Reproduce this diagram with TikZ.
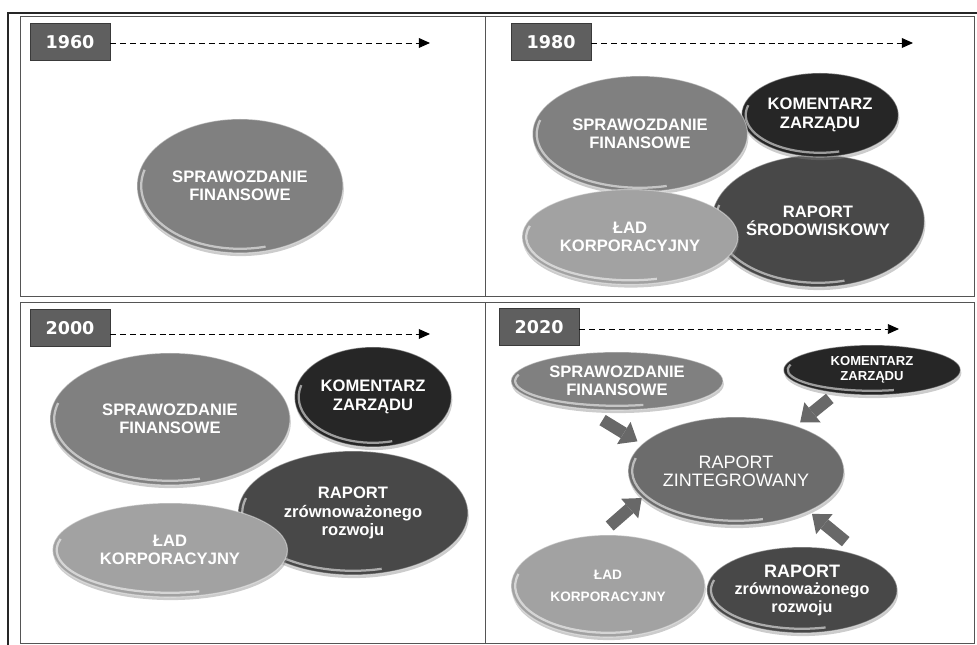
\documentclass[tikz,border=0pt]{standalone}
\usepackage{fontspec}
\setmainfont{Liberation Sans}
\newfontfamily\yearfont{DejaVu Sans}
\usetikzlibrary{shapes.geometric,arrows.meta,shadows,calc}

\definecolor{boxgray}{HTML}{5F5F5F}
\definecolor{boxedge}{HTML}{3A3A3A}
\definecolor{framegray}{HTML}{555555}
\definecolor{sfgray}{HTML}{808080}
\definecolor{kzgray}{HTML}{262626}
\definecolor{rrgray}{HTML}{484848}
\definecolor{ladgray}{HTML}{A2A2A2}
\definecolor{rzgray}{HTML}{6C6C6C}
\definecolor{arrowgray}{HTML}{686868}
\def\s{0.025}
\def\pnt#1#2{({(#1)*\s},{-(#2)*\s})}

\tikzset{
  blob/.style 2 args={ellipse, inner sep=0pt,
    minimum width={(#1)*\s*1cm}, minimum height={(#2)*\s*1cm},
    draw=white, draw opacity=.4, line width=.8pt,
    text=white, align=center, font=\bfseries\fontsize{11.8}{13}\selectfont,
    drop shadow={shadow xshift=.6pt, shadow yshift=-2.2pt, opacity=.4},
    path picture={
      \draw[white, opacity=.55, line width=1.6pt]
        let \p1=(path picture bounding box.north east),
            \p2=(path picture bounding box.center) in
        (\p2) ++(165:{\x1-\x2-3pt} and {\y1-\y2-3pt})
        arc[start angle=165, end angle=285,
            x radius={\x1-\x2-3pt}, y radius={\y1-\y2-3pt}];
    }},
  yearbox/.style={minimum width=2cm, minimum height=.925cm, inner sep=0pt,
    fill=boxgray, draw=boxedge, line width=.6pt, text=white,
    font=\yearfont\bfseries\fontsize{12.5}{14}\selectfont},
  timeline/.style={line width=.7pt, dash pattern=on 4.2pt off 2.8pt,
    -{Triangle[length=8pt,width=7pt]}},
  fatarrow/.style={draw=arrowgray, line width=.3cm,
    -{Triangle[length=.4cm,width=.65cm,line width=0pt]}}
}

\begin{document}
\begin{tikzpicture}
\useasboundingbox \pnt{0}{0} rectangle \pnt{977}{645};
% frames
\draw[black!85,line width=1.5pt] \pnt{977}{13} -- \pnt{8}{13} -- \pnt{8}{645};
\draw[framegray,line width=.7pt] \pnt{20}{16} rectangle \pnt{485}{296};
\draw[framegray,line width=.7pt] \pnt{485}{16} rectangle \pnt{974}{296};
\draw[framegray,line width=.7pt] \pnt{20}{302} rectangle \pnt{485}{643};
\draw[framegray,line width=.7pt] \pnt{485}{302} rectangle \pnt{974}{643};

% years with time arrows
\foreach \yr/\bx/\by/\ty/\tx in {1960/70/42/43/430, 1980/551/42/43/913,
                                 2000/70/328/334/430, 2020/539/327/329/899}{
  \node[yearbox] (y\yr) at \pnt{\bx}{\by} {\yr};
  \path \pnt{\tx}{\ty} coordinate (t\yr);
  \draw[timeline] (y\yr.east |- t\yr) -- (t\yr);
}

% 1960
\node[blob={206}{134}, fill=sfgray] (sf1) at \pnt{240}{186} {SPRAWOZDANIE\\FINANSOWE};

% 1980
\node[blob={213}{132}, fill=rrgray] (rs2) at \pnt{818}{221} {RAPORT\\ŚRODOWISKOWY};
\node[blob={157}{84}, fill=kzgray] (kz2) at \pnt{820}{115} {KOMENTARZ\\ZARZĄDU};
\node[blob={215}{116}, fill=sfgray] (sf2) at \pnt{640}{134} {SPRAWOZDANIE\\FINANSOWE};
\node[blob={216}{95}, fill=ladgray] (la2) at \pnt{630}{237} {ŁAD\\KORPORACYJNY};

% 2000
\node[blob={230}{124}, fill=rrgray] (rr3) at \pnt{353}{513} {RAPORT\\zrównoważonego\\rozwoju};
\node[blob={240}{132}, fill=sfgray] (sf3) at \pnt{170}{419} {SPRAWOZDANIE\\FINANSOWE};
\node[blob={157}{100}, fill=kzgray] (kz3) at \pnt{373}{397} {KOMENTARZ\\ZARZĄDU};
\node[blob={235}{94}, fill=ladgray] (la3) at \pnt{170}{550} {ŁAD\\KORPORACYJNY};

% 2020
\node[blob={212}{58}, fill=sfgray] (sf4) at \pnt{617}{381} {SPRAWOZDANIE\\FINANSOWE};
\node[blob={177}{50}, fill=kzgray, font=\bfseries\fontsize{9.3}{10.5}\selectfont] (kz4) at \pnt{872}{370} {KOMENTARZ\\ZARZĄDU};
\node[blob={216}{108}, fill=rzgray, font=\fontsize{12.8}{13}\selectfont] (rz) at \pnt{736}{471} {RAPORT\\ZINTEGROWANY};
\node[blob={194}{102}, fill=ladgray, font=\bfseries\fontsize{9.7}{15.6}\selectfont] (la4) at \pnt{608}{586} {ŁAD\\KORPORACYJNY};
\node[blob={190}{86}, fill=rrgray, font=\bfseries\fontsize{11.5}{12.5}\selectfont] (rr4) at \pnt{802}{590} {{\fontsize{12.8}{14}\selectfont RAPORT}\\zrównoważonego\\rozwoju};

\draw[fatarrow, shorten <=.525cm, shorten >=.125cm] (sf4.221) -- (rz.164);
\draw[fatarrow, shorten <=.2cm, shorten >=.125cm] (kz4.213) -- (rz.37);
\draw[fatarrow, shorten <=.325cm] (la4.99) -- (rz.196);
\draw[fatarrow, shorten <=.6cm, shorten >=.1cm] (rr4.28) -- (rz.-29);
\end{tikzpicture}
\end{document}
